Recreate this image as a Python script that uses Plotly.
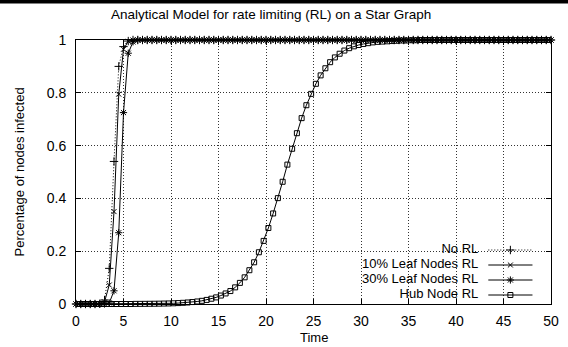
import plotly.graph_objects as go

# ---- data ----
time_main = [i * 0.5 for i in range(101)]          # 0 .. 50 step 0.5
time_hub = [0.25 + i * 0.5 for i in range(100)]    # 0.25 .. 49.75 step 0.5

no_rl = [0.0] * 5 + [0.001, 0.015, 0.135, 0.54, 0.90, 0.975, 0.996] + [1.0] * 89
leaf10 = [0.0] * 6 + [0.008, 0.072, 0.35, 0.795, 0.965, 0.995] + [1.0] * 89
leaf30 = [0.0] * 7 + [0.004, 0.05, 0.27, 0.725, 0.95, 0.993] + [1.0] * 88
hub = ([0.0] * 12 +
       [0.0004, 0.0005, 0.0006, 0.0008, 0.001, 0.0013, 0.0017, 0.0021,
        0.0027, 0.0035, 0.0045, 0.0058, 0.0074, 0.0095, 0.012, 0.0155,
        0.020, 0.025, 0.032, 0.040, 0.049, 0.063, 0.080, 0.101,
        0.128, 0.158, 0.196, 0.239, 0.288, 0.343, 0.401, 0.463,
        0.528, 0.588, 0.647, 0.704, 0.753, 0.796, 0.834, 0.866,
        0.893, 0.916, 0.934, 0.948, 0.960, 0.969, 0.976, 0.981,
        0.985, 0.988, 0.991, 0.993, 0.994, 0.995, 0.996, 0.997,
        0.998, 0.998, 0.999, 0.999] +
       [1.0] * 28)

series_names = ["No RL", "10% Leaf Nodes RL", "30% Leaf Nodes RL", "Hub Node RL"]
x_ticks = [0, 5, 10, 15, 20, 25, 30, 35, 40, 45, 50]
y_ticks = [0, 0.2, 0.4, 0.6, 0.8, 1]
y_ticktext = ["0", "0.2", "0.4", "0.6", "0.8", "1"]

title_text = "Analytical Model for rate limiting (RL) on a Star Graph"
x_title = "Time"
y_title = "Percentage of nodes infected"

X_RANGE = [0, 50]
Y_RANGE = [0, 1]

# ---- styles ----
FONT = "Liberation Sans, Arial, sans-serif"
styles = [
    dict(dash="1px,2px", symbol="cross-thin-open", size=6),
    dict(dash="solid", symbol="x-thin-open", size=5),
    dict(dash="solid", symbol="asterisk-open", size=6),
    dict(dash="solid", symbol="square-open", size=5),
]
xs = [time_main, time_main, time_main, time_hub]
ys = [no_rl, leaf10, leaf30, hub]

fig = go.Figure()
for name, x, y, st in zip(series_names, xs, ys, styles):
    fig.add_trace(go.Scatter(
        x=x, y=y, name=name, mode="lines+markers",
        line=dict(color="black", width=1, dash=st["dash"]),
        marker=dict(symbol=st["symbol"], size=st["size"], color="black",
                    line=dict(color="black", width=1)),
        cliponaxis=False, showlegend=False,
    ))


def fx(frac):
    return X_RANGE[0] + frac * (X_RANGE[1] - X_RANGE[0])


def fy(frac):
    return Y_RANGE[0] + frac * (Y_RANGE[1] - Y_RANGE[0])


# custom gnuplot-style key (text right-aligned, sample to the right), plot fractions
key_rows = [0.2045, 0.1477, 0.0909, 0.0341]
key_x0, key_x1, key_txt = 0.868, 0.961, 0.847
for name, ry, st in zip(series_names, key_rows, styles):
    fig.add_trace(go.Scatter(
        x=[fx(key_x0), fx(key_x1)], y=[fy(ry), fy(ry)], mode="lines",
        line=dict(color="black", width=1, dash=st["dash"]),
        showlegend=False, hoverinfo="skip", cliponaxis=False))
    fig.add_trace(go.Scatter(
        x=[fx((key_x0 + key_x1) / 2)], y=[fy(ry)], mode="markers",
        marker=dict(symbol=st["symbol"], size=st["size"], color="black",
                    line=dict(color="black", width=1)),
        showlegend=False, hoverinfo="skip", cliponaxis=False))
fig.add_trace(go.Scatter(
    x=[fx(key_txt)] * 4, y=[fy(r) for r in key_rows], mode="text", text=series_names,
    textposition="middle left",
    textfont=dict(family=FONT, size=13, color="black"),
    showlegend=False, hoverinfo="skip", cliponaxis=False))

# white key box hiding the grid
fig.add_shape(type="rect", xref="paper", yref="paper", x0=0.503, x1=1.0,
              y0=0.0, y1=0.235, fillcolor="white", line=dict(width=0),
              layer="between")
# black band at the very top of the image
fig.add_shape(type="rect", xref="paper", yref="paper", x0=-0.2, x1=1.2,
              y0=1.138, y1=1.2, fillcolor="black", line=dict(width=0),
              layer="above")

fig.add_annotation(x=0.41, y=1.098, xref="paper", yref="paper", text=title_text,
                   showarrow=False, xanchor="center", yanchor="middle",
                   font=dict(family=FONT, size=13.5, color="black"))
fig.add_annotation(x=0.5, y=-0.128, xref="paper", yref="paper", text=x_title,
                   showarrow=False, xanchor="center", yanchor="middle",
                   font=dict(family=FONT, size=13, color="black"))
fig.add_annotation(x=-0.119, y=0.5, xref="paper", yref="paper", text=y_title,
                   showarrow=False, xanchor="center", yanchor="middle", textangle=-90,
                   font=dict(family=FONT, size=13, color="black"))

axis_common = dict(
    showline=True, linecolor="black", linewidth=1, mirror="ticks",
    ticks="inside", ticklen=5, tickcolor="black", tickwidth=1,
    showgrid=True, gridcolor="#333", griddash="1px,2px", gridwidth=1,
    zeroline=False, tickfont=dict(family=FONT, size=14, color="black"),
)
fig.update_layout(
    width=568, height=347,
    margin=dict(l=76, r=9, t=40, b=43),
    paper_bgcolor="white", plot_bgcolor="white",
    showlegend=False,
    xaxis=dict(range=X_RANGE, tickvals=x_ticks, ticklabelstandoff=4, **axis_common),
    yaxis=dict(range=Y_RANGE, tickvals=y_ticks, ticktext=y_ticktext,
               ticklabelstandoff=6, **axis_common),
)

fig.write_html("out.html")
